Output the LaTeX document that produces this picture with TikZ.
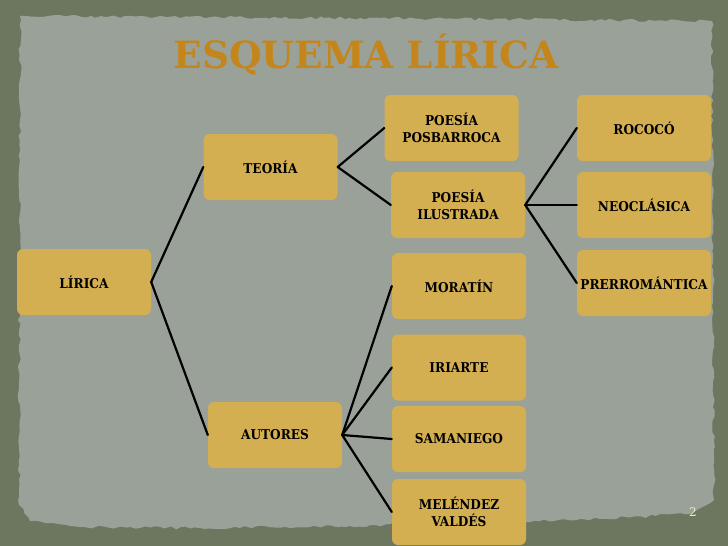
\documentclass[tikz,border=0pt]{standalone}
\usepackage{fontspec}
\setmainfont{DejaVu Serif}
\newfontfamily\cajafont{DejaVu Serif Condensed}
\usetikzlibrary{positioning,decorations.pathmorphing}
\definecolor{pizarra}{HTML}{6D775F}
\definecolor{papel}{HTML}{9AA199}
\definecolor{oro}{HTML}{D3AF52}
\definecolor{ocre}{HTML}{C4861B}
\definecolor{crema}{HTML}{F2EDD2}
\tikzset{>=stealth}

\begin{document}
\begin{tikzpicture}[x=1pt,y=-1pt,
  tema/.style={fill=oro,rounded corners=6pt,minimum width=134pt,minimum height=66pt,
    inner sep=2pt,align=center,font=\cajafont\bfseries\fontsize{13.5}{17}\selectfont},
  rama/.style={line width=2.2pt,line cap=round}]
\fill[pizarra] (0,0) rectangle (728,546);
\pgfmathsetseed{11}
\fill[papel,decorate,decoration={random steps,segment length=5pt,amplitude=1.5pt}]
  (20,16) -- (360,18) -- (712,21) -- (714,500) -- (690,514) -- (600,519)
  -- (480,522) -- (350,526) -- (200,528) -- (80,527) -- (30,521) -- (19,505) -- cycle;
\node[anchor=base,text=ocre,font=\bfseries\fontsize{37.5}{40}\selectfont] (titulo) at (366,68) {ESQUEMA LÍRICA};
\node[tema] (lirica) at (84,282) {LÍRICA};
\node[tema] (teoria) at (270.5,167) {TEORÍA};
\node[tema] (autores) at (275,435) {AUTORES};
\node[tema] (posbarroca) at (451.5,128) {POESÍA\\POSBARROCA};
\node[tema] (ilustrada) at (458,205) {POESÍA\\ILUSTRADA};
\node[tema] (rococo) at (644,128) {ROCOCÓ};
\node[tema] (neoclasica) at (644,205) {NEOCLÁSICA};
\node[tema] (prerromantica) at (644,283) {PRERROMÁNTICA};
\node[tema] (moratin) at (459,286) {MORATÍN};
\node[tema] (iriarte) at (459,367.5) {IRIARTE};
\node[tema] (samaniego) at (459,439) {SAMANIEGO};
\node[tema] (melendez) at (459,512) {MELÉNDEZ\\VALDÉS};
\node[text=crema,font=\fontsize{12}{14}\selectfont] (pagina) at (693,512) {2};
\draw[rama] (lirica.east) -- (teoria.west);
\draw[rama] (lirica.east) -- (autores.west);
\draw[rama] (teoria.east) -- (posbarroca.west);
\draw[rama] (teoria.east) -- (ilustrada.west);
\draw[rama] (ilustrada.east) -- (rococo.west);
\draw[rama] (ilustrada.east) -- (neoclasica.west);
\draw[rama] (ilustrada.east) -- (prerromantica.west);
\draw[rama] (autores.east) -- (moratin.west);
\draw[rama] (autores.east) -- (iriarte.west);
\draw[rama] (autores.east) -- (samaniego.west);
\draw[rama] (autores.east) -- (melendez.west);
\end{tikzpicture}
\end{document}
